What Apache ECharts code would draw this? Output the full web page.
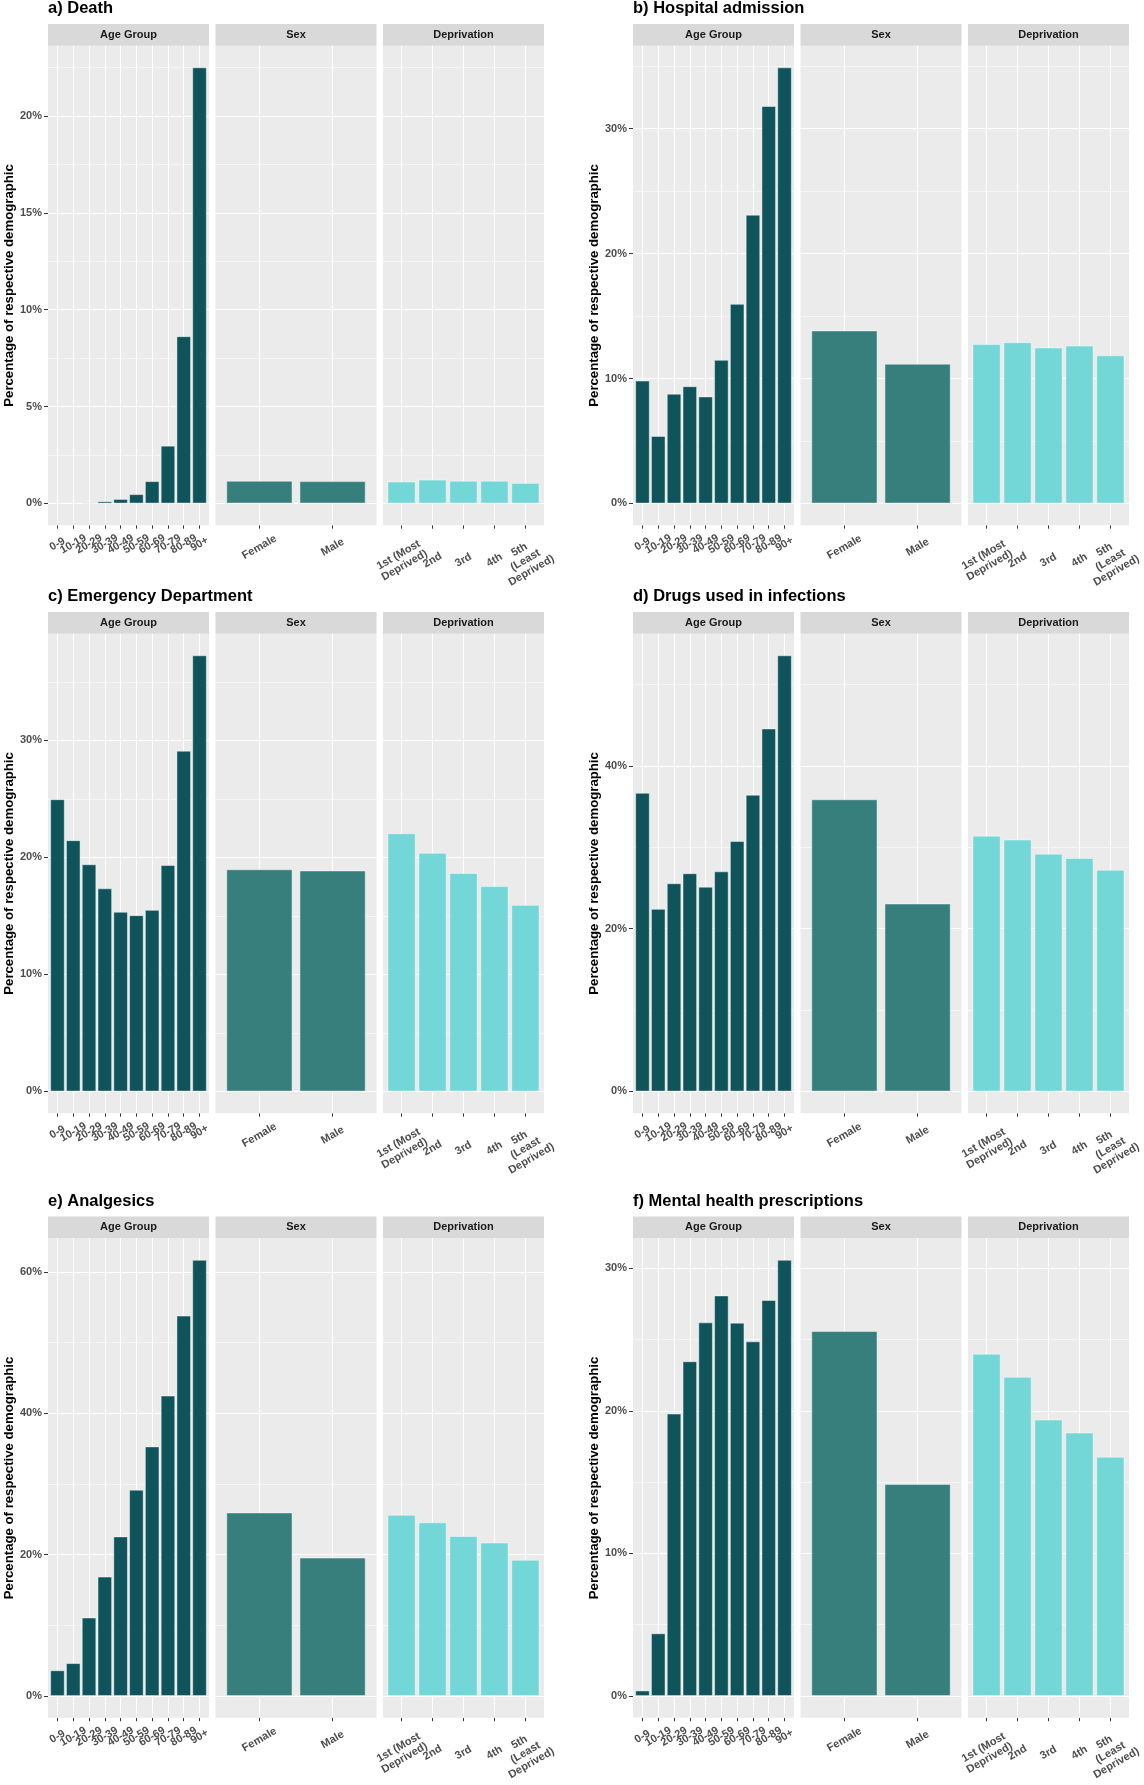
<!DOCTYPE html>
<html lang="en">
<head>
<meta charset="utf-8">
<script src="https://cdn.jsdelivr.net/npm/echarts@6/dist/echarts.min.js"></script>
</head>
<body style="margin:0;background:#fff">
<div id="main" style="width:1144px;height:1785px"></div>
<script>
// categories
var ageGroups = ['0-9', '10-19', '20-29', '30-39', '40-49', '50-59', '60-69', '70-79', '80-89', '90+'];
var sexes = ['Female', 'Male'];
var deprivation = ['1st (Most\nDeprived)', '2nd', '3rd', '4th', '5th\n(Least\nDeprived)'];
var facetNames = ['Age Group', 'Sex', 'Deprivation'];

// a) Death
var deathAge = [0.02, 0.02, 0.04, 0.1, 0.22, 0.47, 1.14, 2.97, 8.62, 22.5];
var deathSex = [1.16, 1.14];
var deathDep = [1.12, 1.22, 1.16, 1.16, 1.05];
var deathTicks = [0, 5, 10, 15, 20];

// b) Hospital admission
var hospAge = [9.82, 5.39, 8.77, 9.37, 8.55, 11.48, 15.96, 23.1, 31.8, 34.9];
var hospSex = [13.83, 11.17];
var hospDep = [12.74, 12.89, 12.47, 12.62, 11.84];
var hospTicks = [0, 10, 20, 30];

// c) Emergency Department
var edAge = [24.96, 21.46, 19.4, 17.34, 15.34, 15.05, 15.5, 19.33, 29.11, 37.26];
var edSex = [18.97, 18.87];
var edDep = [22.05, 20.38, 18.65, 17.53, 15.93];
var edTicks = [0, 10, 20, 30];

// d) Drugs used in infections
var drugAge = [36.66, 22.4, 25.55, 26.78, 25.13, 27.01, 30.73, 36.42, 44.56, 53.55];
var drugSex = [35.86, 23.06];
var drugDep = [31.39, 30.92, 29.18, 28.66, 27.2];
var drugTicks = [0, 20, 40];

// e) Analgesics
var analgAge = [3.6, 4.62, 11.06, 16.85, 22.54, 29.15, 35.27, 42.46, 53.78, 61.67];
var analgSex = [25.93, 19.54];
var analgDep = [25.6, 24.53, 22.6, 21.68, 19.22];
var analgTicks = [0, 20, 40, 60];

// f) Mental health prescriptions
var mentalAge = [0.37, 4.38, 19.8, 23.47, 26.2, 28.09, 26.18, 24.87, 27.77, 30.59];
var mentalSex = [25.59, 14.86];
var mentalDep = [24.0, 22.38, 19.38, 18.47, 16.77];
var mentalTicks = [0, 10, 20, 30];

var charts = [
  { title: 'a) Death', facets: [deathAge, deathSex, deathDep], ticks: deathTicks },
  { title: 'b) Hospital admission', facets: [hospAge, hospSex, hospDep], ticks: hospTicks },
  { title: 'c) Emergency Department', facets: [edAge, edSex, edDep], ticks: edTicks },
  { title: 'd) Drugs used in infections', facets: [drugAge, drugSex, drugDep], ticks: drugTicks },
  { title: 'e) Analgesics', facets: [analgAge, analgSex, analgDep], ticks: analgTicks },
  { title: 'f) Mental health prescriptions', facets: [mentalAge, mentalSex, mentalDep], ticks: mentalTicks }
];

var facetCats = [ageGroups, sexes, deprivation];
var facetColors = ['#0E545A', '#367F7D', '#72D7D6'];
var labelMargins = [19, 22, 35];

// layout
var FONT = '"Liberation Sans", Arial, sans-serif';
var colX = [48, 633];
var rowTop = [24, 612, 1216.5];
var facetW = 161, facetGap = 6.5, stripH = 21.7, panelH = 479.5;

var grids = [], xAxes = [], yAxes = [], series = [], graphics = [];

// two x axes per panel (odd / even label positions) so that the crowded,
// overlapping tick labels are all kept, as in the original
function makeXAxis(gi, cats, tickValues, labelValues, margin) {
  return {
    type: 'value', gridIndex: gi, position: 'bottom', offset: 0,
    min: 0.4, max: cats.length + 0.6,
    axisLine: { show: false },
    splitLine: { show: false },
    axisTick: { show: true, customValues: tickValues, length: 3.5, lineStyle: { color: '#333333', width: 1 } },
    axisLabel: {
      show: labelValues.length > 0,
      customValues: labelValues, rotate: 30, align: 'center', verticalAlign: 'middle',
      showMinLabel: true, showMaxLabel: true, hideOverlap: false,
      margin: margin, fontFamily: FONT, fontWeight: 'bold', fontSize: 11, lineHeight: 12,
      color: '#4D4D4D',
      formatter: function (v) { return cats[Math.round(v) - 1] || ''; }
    }
  };
}

charts.forEach(function (c, ci) {
  var col = ci % 2, row = Math.floor(ci / 2);
  var all = [].concat(c.facets[0], c.facets[1], c.facets[2]);
  var M = Math.max.apply(null, all);
  var yMin = -0.05 * M, yMax = 1.05 * M;
  var step = c.ticks[1] - c.ticks[0];
  var minors = c.ticks.map(function (t) { return t + step / 2; })
    .filter(function (v) { return v < yMax; });

  graphics.push({
    type: 'text', x: colX[col], y: rowTop[row] - 15.5,
    style: { text: c.title, font: 'bold 16.5px ' + FONT, fill: '#000', verticalAlign: 'middle', align: 'left' }
  });

  c.facets.forEach(function (vals, fi) {
    var gi = grids.length;
    var left = colX[col] + fi * (facetW + facetGap);
    var top = rowTop[row] + stripH;
    var cats = facetCats[fi];
    var idx = cats.map(function (_, i) { return i + 1; });
    var oddIdx = idx.filter(function (v) { return v % 2 === 1; });
    var evenIdx = idx.filter(function (v) { return v % 2 === 0; });

    grids.push({
      left: left, top: top, width: facetW, height: panelH,
      show: true, backgroundColor: '#EBEBEB', borderWidth: 0,
      outerBoundsMode: 'none', containLabel: false
    });

    graphics.push({
      type: 'rect', shape: { x: left, y: rowTop[row], width: facetW, height: stripH },
      style: { fill: '#D9D9D9' }
    });
    graphics.push({
      type: 'text', x: left + facetW / 2, y: rowTop[row] + stripH / 2,
      style: { text: facetNames[fi], font: 'bold 11px ' + FONT, fill: '#1A1A1A', align: 'center', verticalAlign: 'middle' }
    });

    var xi = xAxes.length;
    xAxes.push(makeXAxis(gi, cats, idx, oddIdx, labelMargins[fi]));
    xAxes.push(makeXAxis(gi, cats, idx, evenIdx, labelMargins[fi]));

    yAxes.push({
      type: 'value', gridIndex: gi, min: yMin, max: yMax,
      axisLine: { show: false },
      splitLine: { show: false },
      axisTick: { show: fi === 0, customValues: c.ticks, length: 4, lineStyle: { color: '#333333', width: 1 } },
      axisLabel: {
        show: fi === 0, customValues: c.ticks, margin: 6,
        showMinLabel: true, showMaxLabel: true,
        fontFamily: FONT, fontWeight: 'bold', fontSize: 11, color: '#4D4D4D',
        formatter: function (v) { return v + '%'; }
      },
      name: fi === 0 ? 'Percentage of respective demographic' : '',
      nameLocation: 'middle', nameGap: 31,
      nameTextStyle: { fontFamily: FONT, fontWeight: 'bold', fontSize: 13.2, color: '#000' }
    });

    var lines = [];
    idx.forEach(function (v) {
      lines.push({ xAxis: v, lineStyle: { color: '#FFFFFF', width: 1.1, type: 'solid' } });
    });
    c.ticks.forEach(function (v) {
      lines.push({ yAxis: v, lineStyle: { color: '#FFFFFF', width: 1.1, type: 'solid' } });
    });
    minors.forEach(function (v) {
      lines.push({ yAxis: v, lineStyle: { color: '#FFFFFF', width: 0.55, type: 'solid' } });
    });

    series.push({
      type: 'bar', xAxisIndex: xi, yAxisIndex: gi, z: 2,
      barWidth: '90%',
      itemStyle: { color: facetColors[fi], borderColor: 'rgba(255,255,255,0.75)', borderWidth: 0.6 },
      data: vals.map(function (v, i) { return [i + 1, v]; }),
      markLine: {
        silent: true, z: 1, symbol: ['none', 'none'], animation: false,
        label: { show: false }, emphasis: { disabled: true },
        data: lines
      }
    });
  });
});

var chart = echarts.init(document.getElementById('main'), null, { renderer: 'canvas' });
chart.setOption({
  animation: false,
  backgroundColor: '#FFFFFF',
  grid: grids,
  xAxis: xAxes,
  yAxis: yAxes,
  series: series,
  graphic: graphics
});
</script>
</body>
</html>
